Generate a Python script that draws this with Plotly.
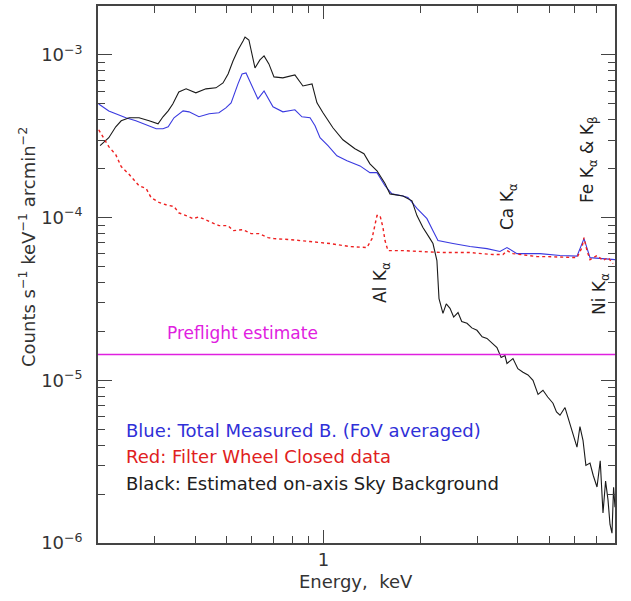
import math
import plotly.graph_objects as go

# ---------------- data ----------------
X_MIN, X_MAX = 0.2, 8.0
Y_MIN, Y_MAX = 1e-6, 2e-3
PREFLIGHT = 1.44e-5

BLUE_E = [0.201, 0.216, 0.227, 0.244, 0.262, 0.282, 0.303, 0.318, 0.330, 0.344,
          0.367, 0.383, 0.411, 0.442, 0.474, 0.498, 0.517, 0.543, 0.559, 0.575,
          0.596, 0.626, 0.654, 0.677, 0.697, 0.748, 0.815, 0.857, 0.908, 0.941,
          0.975, 1.032, 1.100, 1.182, 1.297, 1.392, 1.464, 1.550, 1.629, 1.762,
          1.826, 1.947, 2.091, 2.183, 2.262, 2.518, 2.843, 3.209, 3.521, 3.701,
          3.975, 4.684, 5.403, 6.10, 6.412, 6.693, 8.0]
BLUE_V = [5.00e-4, 4.53e-4, 4.35e-4, 4.11e-4, 3.94e-4, 3.72e-4, 3.52e-4, 3.52e-4, 3.62e-4, 4.11e-4,
          4.53e-4, 4.47e-4, 4.17e-4, 4.35e-4, 4.41e-4, 4.73e-4, 5.08e-4, 6.64e-4, 7.64e-4, 7.75e-4,
          6.64e-4, 5.37e-4, 6.01e-4, 5.37e-4, 4.80e-4, 4.47e-4, 4.60e-4, 4.17e-4, 4.11e-4, 3.67e-4,
          3.10e-4, 2.77e-4, 2.40e-4, 2.24e-4, 2.08e-4, 1.89e-4, 1.89e-4, 1.57e-4, 1.40e-4, 1.36e-4,
          1.33e-4, 1.14e-4, 9.86e-5, 8.32e-5, 7.23e-5, 6.93e-5, 6.64e-5, 6.45e-5, 6.19e-5, 6.55e-5,
          6.01e-5, 6.01e-5, 5.85e-5, 5.80e-5, 7.43e-5, 5.68e-5, 5.52e-5]

BLACK_E = [0.203, 0.216, 0.227, 0.236, 0.250, 0.268, 0.288, 0.307, 0.318, 0.330,
           0.341, 0.349, 0.356, 0.375, 0.402, 0.432, 0.464, 0.488, 0.506, 0.524,
           0.543, 0.563, 0.571, 0.587, 0.596, 0.613, 0.635, 0.654, 0.677, 0.702,
           0.748, 0.815, 0.863, 0.921, 0.954, 0.996, 1.069, 1.148, 1.251, 1.334,
           1.392, 1.464, 1.550, 1.606, 1.762, 1.879, 1.947, 2.032, 2.137, 2.183,
           2.245, 2.262, 2.279, 2.344, 2.40, 2.465, 2.53, 2.610, 2.68, 2.783,
           2.88, 2.988, 3.10, 3.209, 3.33, 3.446, 3.55, 3.649, 3.701, 3.863,
           4.00, 4.149, 4.30, 4.456, 4.62, 4.785, 4.95, 5.139, 5.27, 5.403,
           5.60, 5.802, 5.95, 6.099, 6.23, 6.367, 6.50, 6.693, 6.85, 7.036,
           7.20, 7.343, 7.48, 7.610, 7.72, 7.830, 7.92, 8.0]
BLACK_V = [2.77e-4, 3.10e-4, 3.62e-4, 3.94e-4, 4.11e-4, 4.11e-4, 3.94e-4, 3.77e-4, 4.17e-4, 4.53e-4,
           5.00e-4, 5.45e-4, 5.93e-4, 6.19e-4, 5.85e-4, 6.19e-4, 6.28e-4, 6.73e-4, 7.64e-4, 9.19e-4,
           1.073e-3, 1.219e-3, 1.289e-3, 1.236e-3, 1.058e-3, 8.32e-4, 9.32e-4, 9.86e-4, 8.81e-4, 7.33e-4,
           7.23e-4, 7.54e-4, 6.45e-4, 6.64e-4, 5.08e-4, 4.41e-4, 3.57e-4, 3.01e-4, 2.65e-4, 2.47e-4,
           2.14e-4, 1.94e-4, 1.62e-4, 1.40e-4, 1.36e-4, 1.27e-4, 1.03e-4, 8.69e-5, 7.43e-5, 6.93e-5,
           5.45e-5, 3.72e-5, 3.18e-5, 2.58e-5, 2.95e-5, 2.77e-5, 2.45e-5, 2.61e-5, 2.30e-5, 2.24e-5,
           2.10e-5, 2.03e-5, 1.85e-5, 1.81e-5, 1.70e-5, 1.59e-5, 1.38e-5, 1.42e-5, 1.27e-5, 1.36e-5,
           1.18e-5, 1.12e-5, 1.08e-5, 1.00e-5, 8.2e-6, 8.69e-6, 7.9e-6, 7.23e-6, 6.4e-6, 6.10e-6,
           6.8e-6, 5.30e-6, 4.6e-6, 3.88e-6, 5.2e-6, 4.28e-6, 3.0e-6, 3.10e-6, 2.6e-6, 2.21e-6,
           3.2e-6, 1.53e-6, 2.4e-6, 1.84e-6, 1.3e-6, 1.15e-6, 2.2e-6, 1.66e-6]

RED_E = [0.201, 0.216, 0.227, 0.236, 0.250, 0.259, 0.268, 0.282, 0.292, 0.309,
         0.325, 0.344, 0.356, 0.375, 0.394, 0.411, 0.442, 0.474, 0.506, 0.524,
         0.563, 0.596, 0.631, 0.673, 0.702, 0.787, 0.908, 1.047, 1.207, 1.363,
         1.413, 1.443, 1.464, 1.496, 1.528, 1.550, 1.583, 1.762, 2.032, 2.344,
         2.843, 3.348, 3.597, 3.701, 3.863, 4.585, 4.924, 6.099, 6.321, 6.412,
         6.551, 6.693, 7.036, 7.343, 7.610, 7.888]
RED_V = [3.47e-4, 2.73e-4, 2.44e-4, 2.06e-4, 1.84e-4, 1.69e-4, 1.57e-4, 1.51e-4, 1.33e-4, 1.24e-4,
         1.20e-4, 1.17e-4, 1.07e-4, 1.03e-4, 9.86e-5, 1.01e-4, 9.45e-5, 8.93e-5, 8.93e-5, 8.32e-5,
         8.44e-5, 7.98e-5, 7.98e-5, 7.54e-5, 7.43e-5, 7.33e-5, 7.13e-5, 6.93e-5, 6.64e-5, 6.55e-5,
         7.43e-5, 9.19e-5, 1.03e-4, 1.03e-4, 8.69e-5, 7.23e-5, 6.27e-5, 6.27e-5, 6.19e-5, 6.10e-5,
         6.10e-5, 5.93e-5, 5.93e-5, 6.27e-5, 6.01e-5, 5.76e-5, 5.76e-5, 5.68e-5, 6.55e-5, 7.54e-5,
         6.27e-5, 5.52e-5, 5.85e-5, 5.45e-5, 5.68e-5, 5.22e-5]

Y_TICKS = [1e-6, 1e-5, 1e-4, 1e-3]
Y_TICK_TEXT = ["10<sup>\u22126</sup>", "10<sup>\u22125</sup>", "10<sup>\u22124</sup>", "10<sup>\u22123</sup>"]
X_TICKS = [1]
X_TICK_TEXT = ["1"]
X_MINOR = [0.3, 0.4, 0.5, 0.6, 0.7, 0.8, 0.9, 2, 3, 4, 5, 6, 7]
Y_MINOR = [m * 10.0 ** e for e in (-6, -5, -4, -3) for m in range(2, 10) if m * 10.0 ** e <= Y_MAX]

LEGEND_LINES = [("Blue: Total Measured B. (FoV averaged)", "#3030d8"),
                ("Red: Filter Wheel Closed data", "#e02020"),
                ("Black: Estimated on-axis Sky Background", "#202020")]

# ---------------- figure ----------------
FONT = "DejaVu Sans"
AXC = "#444444"
TXT = "#333333"
L, R, T, B = 98, 16, 6, 58
W, H = 631, 601
PW, PH = W - L - R, H - T - B

fig = go.Figure()
fig.add_trace(go.Scatter(x=BLUE_E, y=BLUE_V, mode="lines", line=dict(color="#3a3ae0", width=1.1),
                         showlegend=False, hoverinfo="skip"))
fig.add_trace(go.Scatter(x=BLACK_E, y=BLACK_V, mode="lines", line=dict(color="#1a1a1a", width=1.1),
                         showlegend=False, hoverinfo="skip"))
fig.add_trace(go.Scatter(x=RED_E, y=RED_V, mode="lines", line=dict(color="#ee2020", width=1.4, dash="dot"),
                         showlegend=False, hoverinfo="skip"))
fig.add_trace(go.Scatter(x=[X_MIN, X_MAX], y=[PREFLIGHT, PREFLIGHT], mode="lines",
                         line=dict(color="#e020e0", width=1.5), showlegend=False, hoverinfo="skip"))


def px_to_paper(px, py):
    return (px - L) / PW, (H - B - py) / PH


ann = []
xp, yp = px_to_paper(242, 333)
ann.append(dict(x=xp, y=yp, xref="paper", yref="paper", text="Preflight estimate",
                xanchor="center", yanchor="middle", showarrow=False,
                font=dict(family=FONT, size=17, color="#e020e0")))
for i, (t, c) in enumerate(LEGEND_LINES):
    xp, yp = px_to_paper(124, 430 + i * 26.5)
    ann.append(dict(x=xp, y=yp, xref="paper", yref="paper", text=t,
                    xanchor="left", yanchor="middle", showarrow=False,
                    font=dict(family=FONT, size=18, color=c)))

for text, px, py in [("Al K<sub>\u03b1</sub>", 381, 283),
                     ("Ca K<sub>\u03b1</sub>", 508, 207),
                     ("Fe K<sub>\u03b1</sub> &amp; K<sub>\u03b2</sub>", 588, 160),
                     ("Ni K<sub>\u03b1</sub>", 600, 294)]:
    xp, yp = px_to_paper(px, py)
    ann.append(dict(x=xp, y=yp, xref="paper", yref="paper", text=text, textangle=-90,
                    xanchor="center", yanchor="middle", showarrow=False,
                    font=dict(family=FONT, size=17, color="#222222")))

xp, yp = px_to_paper(27, 247)
ann.append(dict(x=xp, y=yp, xref="paper", yref="paper", textangle=-90,
                text="Counts s<sup>\u22121</sup> keV<sup>\u22121</sup> arcmin<sup>\u22122</sup>",
                xanchor="center", yanchor="middle", showarrow=False,
                font=dict(family=FONT, size=18, color=TXT)))
xp, yp = px_to_paper(356, 581)
ann.append(dict(x=xp, y=yp, xref="paper", yref="paper", text="Energy,  keV",
                xanchor="center", yanchor="middle", showarrow=False,
                font=dict(family=FONT, size=18, color=TXT)))

fig.update_layout(
    width=W, height=H,
    margin=dict(l=L, r=R, t=T, b=B),
    paper_bgcolor="white", plot_bgcolor="white",
    annotations=ann, showlegend=False,
    font=dict(family=FONT, color=TXT),
)
fig.update_xaxes(type="log", range=[math.log10(X_MIN), math.log10(X_MAX)], automargin=False,
                 showgrid=False, zeroline=False, showline=True, linecolor=AXC, linewidth=1.5,
                 mirror="ticks", ticks="inside", ticklen=13, tickwidth=1, tickcolor=AXC,
                 tickmode="array", tickvals=X_TICKS, ticktext=X_TICK_TEXT,
                 tickfont=dict(family=FONT, size=18, color=TXT),
                 minor=dict(tickmode="array", tickvals=X_MINOR, ticks="inside", ticklen=7,
                            tickcolor=AXC, tickwidth=1, showgrid=False))
fig.update_yaxes(type="log", range=[math.log10(Y_MIN), math.log10(Y_MAX)], automargin=False,
                 showgrid=False, zeroline=False, showline=True, linecolor=AXC, linewidth=1.5,
                 mirror="ticks", ticks="inside", ticklen=14, tickwidth=1, tickcolor=AXC,
                 tickmode="array", tickvals=Y_TICKS, ticktext=Y_TICK_TEXT,
                 tickfont=dict(family=FONT, size=18, color=TXT), ticklabelstandoff=10,
                 minor=dict(tickmode="array", tickvals=Y_MINOR, ticks="inside", ticklen=7,
                            tickcolor=AXC, tickwidth=1, showgrid=False))

fig.write_html("out.html", config={"displayModeBar": False},
               post_script="document.body.style.margin='0';")
